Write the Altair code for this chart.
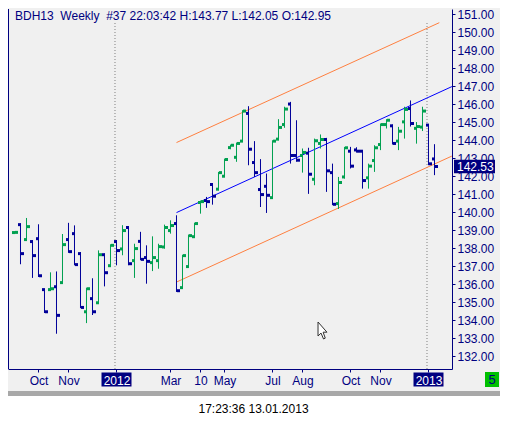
import altair as alt
import pandas as pd

# ---------------- data ----------------
bar_idx = list(range(1, 72))
opens = [138.86, 139.30, 138.47, 138.36, 138.52, 135.69, 135.69, 135.85, 136.08, 138.47,
         138.80, 137.69, 134.46, 135.19, 134.96, 137.63, 137.02, 138.36, 137.95, 139.14,
         137.30, 138.37, 137.47, 137.19, 137.30, 138.06, 138.97, 139.36, 135.80, 136.97,
         138.63, 140.53, 140.64, 141.53, 141.27, 141.99, 143.58, 143.04, 143.94, 145.48,
         142.75, 141.25, 141.43, 140.80, 144.05, 144.86, 146.00, 143.14, 143.14, 143.27,
         141.82, 143.81, 144.03, 142.19, 140.47, 141.95, 143.38, 143.45, 143.38, 141.90,
         142.86, 143.75, 144.86, 144.79, 143.94, 145.01, 145.75, 144.65, 144.72, 144.83,
         142.95]
highs = [138.90, 139.36, 139.67, 138.43, 139.32, 135.72, 136.65, 136.70, 138.78, 139.40,
         139.26, 137.78, 135.80, 136.32, 137.87, 137.69, 138.21, 138.43, 139.27, 139.21,
         138.24, 138.90, 138.15, 138.65, 138.24, 139.30, 139.54, 139.82, 137.63, 138.75,
         139.41, 140.64, 140.84, 141.58, 142.23, 142.97, 143.75, 143.86, 145.66, 145.88,
         143.94, 142.94, 142.14, 143.99, 145.16, 145.85, 146.12, 145.10, 143.53, 143.57,
         144.08, 144.31, 144.12, 142.69, 141.95, 143.62, 143.62, 143.60, 143.44, 142.69,
         143.71, 144.92, 145.16, 144.86, 144.73, 145.85, 146.20, 145.00, 145.85, 144.86,
         143.77]
lows = [138.84, 137.10, 138.39, 136.34, 136.39, 134.39, 135.65, 133.24, 136.06, 137.73,
        137.04, 134.66, 133.83, 134.28, 134.95, 135.87, 136.95, 137.04, 137.60, 137.04,
        136.34, 137.32, 136.02, 136.72, 136.85, 137.97, 138.80, 135.56, 135.74, 136.95,
        138.62, 139.91, 140.23, 140.41, 141.21, 141.95, 143.49, 142.79, 143.90, 142.60,
        141.95, 140.28, 139.95, 140.75, 143.99, 144.68, 142.69, 142.79, 142.19, 141.01,
        141.49, 143.53, 141.12, 140.38, 140.17, 141.86, 142.42, 143.30, 141.30, 141.30,
        142.23, 143.44, 144.64, 143.75, 143.44, 144.08, 144.75, 143.80, 144.50, 142.60,
        142.05]
closes = [138.87, 137.69, 139.19, 137.58, 136.46, 134.46, 135.74, 134.26, 138.19, 137.80,
          137.08, 134.70, 135.74, 134.46, 137.63, 136.63, 138.15, 137.86, 138.97, 137.13,
          137.97, 137.37, 137.26, 137.47, 138.08, 139.14, 139.25, 135.63, 137.58, 138.69,
          139.36, 140.58, 140.58, 140.88, 142.19, 142.92, 143.71, 143.81, 145.61, 143.49,
          142.19, 140.97, 140.93, 143.94, 144.70, 145.72, 143.14, 142.88, 143.31, 142.10,
          143.96, 144.03, 142.29, 140.43, 141.64, 143.57, 142.55, 143.38, 141.75, 142.55,
          143.57, 144.86, 145.10, 143.81, 144.49, 145.70, 144.92, 144.75, 145.61, 142.68,
          142.53]
bar_dir = ["up", "down", "up", "down", "down", "down", "up", "down", "up", "down",
           "down", "down", "up", "down", "up", "down", "up", "down", "up", "down",
           "up", "down", "down", "up", "up", "up", "up", "down", "up", "up",
           "up", "up", "down", "down", "up", "up", "up", "up", "up", "down",
           "down", "down", "down", "up", "up", "up", "down", "down", "up", "down",
           "up", "up", "down", "down", "up", "up", "down", "down", "down", "up",
           "up", "up", "up", "down", "up", "up", "down", "up", "up", "down",
           "down"]

tick_idx = [5, 10, 18, 27, 32, 36, 44, 49, 57, 62, 70]
tick_lbl = ["Oct", "Nov", "2012", "Mar", "10", "May", "Jul", "Aug", "Oct", "Nov", "2013"]
year_idx = [18, 70]

chan_x = [28, 73.9]
chan_mid = [139.97, 146.97]
chan_low = [136.11, 143.11]
chan_up_x = [28, 71.8]
chan_up = [143.86, 150.52]

y_ticks = list(range(132, 152))
last_price = [142.53]
title_text = "BDH13 \u00a0Weekly \u00a0#37 22:03:42 H:143.77 L:142.05 O:142.95"
footer_text = "17:23:36 13.01.2013"
badge_text = "5"

# ---------------- style ----------------
NAVY = "#000080"
GREEN = "#00a050"
BLUE = "#000099"
FONT = "Arial, Liberation Sans"
W, H = 444, 360

bars = pd.DataFrame({"i": bar_idx, "o": opens, "h": highs, "l": lows, "c": closes, "d": bar_dir})
years = pd.DataFrame({"i": year_idx})
mid_df = pd.DataFrame({"i": chan_x, "v": chan_mid})
low_df = pd.DataFrame({"i": chan_x, "v": chan_low})
up_df = pd.DataFrame({"i": chan_up_x, "v": chan_up})
last_df = pd.DataFrame({"p": last_price})
one = pd.DataFrame({"k": [0]})

xs = alt.Scale(domain=[-0.0833, 73.9167], nice=False, zero=False)
ys = alt.Scale(domain=[131.28, 151.28], nice=False, zero=False)

expr = "''"
for t, l in reversed(list(zip(tick_idx, tick_lbl))):
    expr = f"datum.value == {t} ? '{l}' : ({expr})"
year_test = " || ".join(f"datum.value == {y}" for y in year_idx)

x_axis = alt.Axis(values=tick_idx, labelExpr=expr, title=None, grid=False,
                  domainColor=NAVY, tickColor=NAVY, tickSize=3, labelPadding=3,
                  labelFont=FONT, labelFontSize=12,
                  labelColor=alt.condition(year_test, alt.value("white"), alt.value(NAVY)),
                  zindex=1, labelFlush=False, labelOverlap=False)
y_axis = alt.Axis(orient="right", values=y_ticks, format=".2f", title=None, grid=False,
                  domainColor=NAVY, tickColor=NAVY, tickSize=3, labelPadding=2,
                  labelFont=FONT, labelFontSize=12, labelColor=NAVY,
                  labelFlush=False, labelOverlap=False)

X = alt.X("i:Q", scale=xs, axis=x_axis)
color = alt.Color("d:N", scale=alt.Scale(domain=["up", "down"], range=[GREEN, BLUE]), legend=None)

# frame pieces (outside plot)
bottom_band = alt.Chart(one).mark_rect(color="#a8a8a8").encode(
    x=alt.value(0), x2=alt.value(492), y=alt.value(382), y2=alt.value(387))
white_bottom = alt.Chart(one).mark_rect(color="white").encode(
    x=alt.value(0), x2=alt.value(492), y=alt.value(387), y2=alt.value(410))
left_border = alt.Chart(one).mark_rule(color=NAVY, strokeWidth=1).encode(
    x=alt.value(0.5), y=alt.value(0), y2=alt.value(H))

# year dotted separators
year_sep = alt.Chart(years).transform_calculate(s="datum.i - 0.25").mark_rule(
    color="#808080", strokeDash=[1, 2], strokeWidth=1).encode(
    x=alt.X("s:Q", scale=xs, axis=x_axis), y=alt.value(14), y2=alt.value(H))

# year label boxes on x axis
year_box = alt.Chart(years).transform_calculate(
    x0="datum.i - 2.5", x1="datum.i + 2.5").mark_rect(color=NAVY).encode(
    x=alt.X("x0:Q", scale=xs, axis=x_axis), x2="x1:Q",
    y=alt.value(363.5), y2=alt.value(377.5))

# regression channel
mid_line = alt.Chart(mid_df).mark_line(color="#0000ff", strokeWidth=1).encode(
    x=X, y=alt.Y("v:Q", scale=ys, axis=y_axis))
low_line = alt.Chart(low_df).mark_line(color="#ff8040", strokeWidth=1).encode(
    x=X, y=alt.Y("v:Q", scale=ys, axis=y_axis))
up_line = alt.Chart(up_df).mark_line(color="#ff8040", strokeWidth=1).encode(
    x=X, y=alt.Y("v:Q", scale=ys, axis=y_axis))

# OHLC bars
base = alt.Chart(bars)
hl = base.mark_rule(strokeWidth=1).encode(
    x=X, y=alt.Y("l:Q", scale=ys, axis=y_axis), y2="h:Q", color=color)
op = base.mark_square(size=9, opacity=1, xOffset=-1).encode(
    x=X, y=alt.Y("o:Q", scale=ys, axis=y_axis), color=color)
cl = base.mark_square(size=9, opacity=1, xOffset=2).encode(
    x=X, y=alt.Y("c:Q", scale=ys, axis=y_axis), color=color)

# last price tag
last_box = alt.Chart(last_df).transform_calculate(
    a="datum.p - 0.37", b="datum.p + 0.37").mark_rect(color=NAVY).encode(
    x=alt.value(446), x2=alt.value(487),
    y=alt.Y("a:Q", scale=ys, axis=y_axis), y2="b:Q")
last_txt = alt.Chart(last_df).mark_text(
    color="white", font=FONT, fontSize=12, align="left", baseline="middle").encode(
    x=alt.value(449), y=alt.Y("p:Q", scale=ys, axis=y_axis),
    text=alt.Text("p:Q", format=".2f"))

# texts
title = alt.Chart(one).mark_text(
    text=title_text, color=NAVY, font=FONT, fontSize=12, align="left",
    baseline="alphabetic").encode(x=alt.value(7), y=alt.value(11))
footer = alt.Chart(one).mark_text(
    text=footer_text, color="black", font=FONT, fontSize=12, align="center",
    baseline="alphabetic").encode(x=alt.value(245.5), y=alt.value(403.5))
badge = alt.Chart(one).mark_rect(color="#00c000").encode(
    x=alt.value(477), x2=alt.value(491), y=alt.value(363), y2=alt.value(378))
badge_txt = alt.Chart(one).mark_text(
    text=badge_text, color=NAVY, font=FONT, fontSize=13, align="center",
    baseline="middle").encode(x=alt.value(484), y=alt.value(371))

# mouse cursor
cursor = alt.Chart(one).mark_point(
    shape="M-0.55,-1 L-0.55,0.65 L-0.2,0.3 L0.1,1 L0.3,0.9 L0.05,0.2 L0.5,0.2 Z",
    size=289, filled=True, fill="white", stroke="#303030", strokeWidth=1, opacity=1).encode(
    x=alt.value(314.7), y=alt.value(321.5))

chart = alt.layer(
    bottom_band, white_bottom, year_box, year_sep,
    up_line, low_line, mid_line, hl, op, cl, left_border,
    last_box, last_txt, title, footer, badge, badge_txt, cursor
).properties(
    width=W, height=H, background="#f0f0f0",
    autosize=alt.AutoSizeParams(type="none"),
    padding={"left": 0, "top": 1, "right": 48, "bottom": 47}
).configure_view(strokeWidth=0)

chart.save("out.html", embed_options={"renderer": "svg", "actions": False})
